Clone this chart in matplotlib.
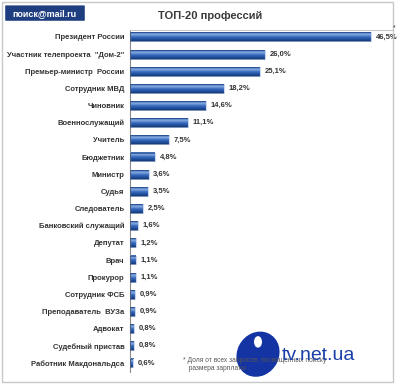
import numpy as np
import matplotlib.pyplot as plt
from matplotlib.patches import Rectangle, FancyBboxPatch, Ellipse
from matplotlib.colors import LinearSegmentedColormap

# Data
professions = [
    "Президент России", 'Участник телепроекта  "Дом-2"', "Премьер-министр  России",
    "Сотрудник МВД", "Чиновник", "Военнослужащий", "Учитель", "Бюджетник",
    "Министр", "Судья", "Следователь", "Банковский служащий", "Депутат", "Врач",
    "Прокурор", "Сотрудник ФСБ", "Преподаватель  ВУЗа", "Адвокат",
    "Судебный пристав", "Работник Макдональдса",
]
shares = [46.5, 26.0, 25.1, 18.2, 14.6, 11.1, 7.5, 4.8, 3.6, 3.5,
          2.5, 1.6, 1.2, 1.1, 1.1, 0.9, 0.9, 0.8, 0.8, 0.6]

plt.rcParams['font.family'] = ['Liberation Sans', 'DejaVu Sans']

fig = plt.figure(figsize=(4.0, 3.85), dpi=100)
fig.patch.set_facecolor('white')

# outer frame
fig.add_artist(Rectangle((0.006, 0.008), 0.977, 0.986, transform=fig.transFigure,
                         fill=False, edgecolor='#c8c8c8', linewidth=1))

ax = fig.add_axes([0.325, 0.034, 0.658, 0.888])
n = len(shares)
y = np.arange(n)
bar_h = 0.52

# vertical gradient for the bars (dark top edge, light band, dark bottom)
grad = np.linspace(0, 1, 32).reshape(-1, 1)
cmap = LinearSegmentedColormap.from_list('b', ['#2a5aa8', '#8fb2e4', '#3c6fc0', '#2454a4', '#163a7a'])

for yi, v in zip(y, shares):
    ax.imshow(grad, cmap=cmap, aspect='auto', extent=(0, v, yi + bar_h / 2, yi - bar_h / 2),
              interpolation='bicubic', zorder=2)
    ax.add_patch(Rectangle((0, yi - bar_h / 2), v, bar_h, fill=False,
                           edgecolor='#1c3f7e', linewidth=0.4, zorder=3))
    ax.plot([v, v], [yi - bar_h / 2, yi + bar_h / 2], color='#c9d8ef', lw=0.8, zorder=4)
    ax.text(v + 0.9, yi, f"{v:.1f}%".replace('.', ','), va='center', ha='left',
            fontsize=5.5, fontweight='bold', color='#333333')

ax.set_xlim(0, 50.8)
ax.set_ylim(n - 1 + 0.52, -0.40)
ax.set_yticks(y)
ax.set_yticklabels(professions, fontsize=5.5, fontweight='bold', color='#333333')
ax.tick_params(axis='y', length=0, pad=4)
ax.set_xticks([])
for s in ['right', 'bottom']:
    ax.spines[s].set_visible(False)
ax.spines['left'].set_color('#8a8a8a')
ax.spines['top'].set_color('#c8c8c8')
ax.spines['left'].set_linewidth(0.8)
ax.spines['top'].set_linewidth(0.8)
ax.set_facecolor('none')

# asterisk
fig.text(0.985, 0.928, '*', fontsize=5, color='#333333', ha='center', va='center')

# logo
fig.add_artist(FancyBboxPatch((0.015, 0.948), 0.195, 0.036, transform=fig.transFigure,
                              boxstyle='round,pad=0.002', facecolor='#1f3e80', edgecolor='none'))
fig.text(0.112, 0.966, 'поиск@mail.ru', fontsize=6.5, fontweight='bold', color='white',
         ha='center', va='center')

# title
fig.text(0.525, 0.958, 'ТОП-20 профессий', fontsize=8, fontweight='bold', color='#3a3a3a',
         ha='center', va='center')

# footnote
fig.text(0.458, 0.052, '* Доля от всех запросов, посвященных поиску\n   размера зарплаты',
         fontsize=4.8, color='#555555', ha='left', va='center', linespacing=1.2)

# watermark
fig.add_artist(Ellipse((0.645, 0.08), 0.105, 0.12, angle=-25, transform=fig.transFigure,
                       facecolor='#1434a4', edgecolor='none'))
fig.add_artist(Ellipse((0.645, 0.112), 0.02, 0.03, transform=fig.transFigure,
                       facecolor='white', edgecolor='none'))
fig.text(0.705, 0.077, 'tv.net.ua', fontsize=14, color='#1b3fa8', ha='left', va='center')

fig.savefig('out.png', dpi=100)
